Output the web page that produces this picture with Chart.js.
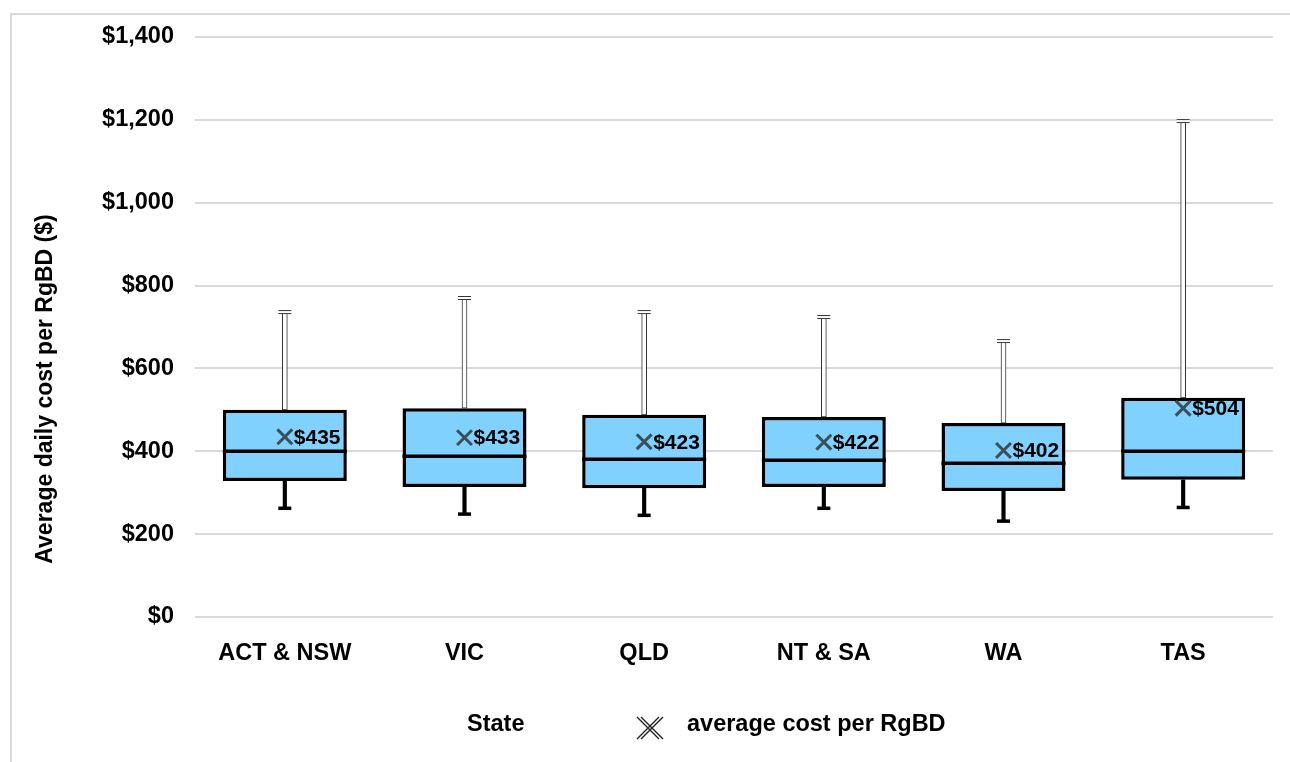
<!DOCTYPE html>
<html>
<head>
<meta charset="utf-8">
<script src="https://cdn.jsdelivr.net/npm/chart.js@4.4.0/dist/chart.umd.min.js"></script>
<style>
    body { margin: 0; overflow: hidden; background: #fff; }
    #frame {
        position: absolute; left: 10px; top: 13px; width: 1400px; height: 900px;
        border-left: 2px solid #d9d9d9; border-top: 2px solid #d9d9d9;
    }
    #wrap { position: absolute; left: 0; top: 0; width: 1290px; height: 762px; }
</style>
</head>
<body>
<div id="frame"></div>
<div id="wrap"><canvas id="boxChart" width="1290" height="762"></canvas></div>
<script>

const states = ["ACT & NSW", "VIC", "QLD", "NT & SA", "WA", "TAS"];
const minCost = [263, 249, 246, 263, 232, 265];
const q1Cost = [328, 314, 311, 314, 304, 331];
const medianCost = [400, 389, 381, 379, 372, 400];
const q3Cost = [500, 504, 488, 483, 468, 529];
const maxCost = [736, 770, 736, 724, 666, 1197];
const meanCost = [435, 433, 423, 422, 402, 504];
const yTicks = [0, 200, 400, 600, 800, 1000, 1200, 1400];

const FONT = "'Liberation Sans', Arial, sans-serif";

function money(v) {
    return "$" + v.toLocaleString("en-US");
}

function drawCross(ctx, x, y, r, width, color) {
    ctx.save();
    ctx.strokeStyle = color;
    ctx.lineWidth = width;
    ctx.beginPath();
    ctx.moveTo(x - r, y - r);
    ctx.lineTo(x + r, y + r);
    ctx.moveTo(x + r, y - r);
    ctx.lineTo(x - r, y + r);
    ctx.stroke();
    ctx.restore();
}

// medians, whisker caps, mean labels, axis title and legend
const boxExtras = {
    id: "boxExtras",
    afterDatasetsDraw(chart) {
        const ctx = chart.ctx;
        const y = chart.scales.y;
        const boxes = chart.getDatasetMeta(0).data;

        ctx.save();
        boxes.forEach((bar, i) => {
            const half = bar.width / 2;
            const cx = bar.x;

            // median
            const my = Math.round(y.getPixelForValue(medianCost[i]));
            ctx.fillStyle = "#000";
            ctx.fillRect(cx - half, my - 1.5, bar.width, 3.5);

            // lower cap
            const ly = y.getPixelForValue(minCost[i]);
            ctx.fillRect(cx - 6.5, ly - 1.5, 13, 3.5);

            // upper cap (double line)
            const uy = y.getPixelForValue(maxCost[i]);
            ctx.fillStyle = "#ffffff";
            ctx.fillRect(cx - 6.5, uy - 2, 13, 4);
            ctx.strokeStyle = "#333";
            ctx.lineWidth = 1;
            ctx.beginPath();
            ctx.moveTo(cx - 6.5, uy - 1.5);
            ctx.lineTo(cx + 6.5, uy - 1.5);
            ctx.moveTo(cx - 6.5, uy + 1.5);
            ctx.lineTo(cx + 6.5, uy + 1.5);
            ctx.stroke();
        });

        // mean labels
        const points = chart.getDatasetMeta(3).data;
        ctx.fillStyle = "#000";
        ctx.font = "bold 21px " + FONT;
        ctx.textAlign = "left";
        ctx.textBaseline = "middle";
        points.forEach((pt, i) => {
            ctx.fillText(money(meanCost[i]), pt.x + 9, pt.y + 1);
        });
        ctx.restore();
    },
    afterDraw(chart) {
        const ctx = chart.ctx;
        ctx.save();
        ctx.fillStyle = "#000";
        ctx.font = "bold 23px " + FONT;

        // y axis title, centred on whole frame height
        ctx.translate(46, 389);
        ctx.rotate(-Math.PI / 2);
        ctx.textAlign = "center";
        ctx.textBaseline = "middle";
        ctx.fillText("Average daily cost per RgBD ($)", 0, 0);
        ctx.restore();

        ctx.save();
        ctx.fillStyle = "#000";
        ctx.font = "bold 23.5px " + FONT;
        ctx.textAlign = "left";
        ctx.textBaseline = "middle";
        ctx.fillText("State", 467, 725);
        drawCross(ctx, 648, 728, 11, 1.4, "#222");
        drawCross(ctx, 652, 728, 11, 1.4, "#222");
        ctx.fillText("average cost per RgBD", 687, 725);
        ctx.restore();
    }
};

function main() {
    const ctx = document.getElementById("boxChart").getContext("2d");

    new Chart(ctx, {
        type: "bar",
        data: {
            labels: states,
            datasets: [
                {
                    label: "box",
                    data: q1Cost.map((v, i) => [v, q3Cost[i]]),
                    backgroundColor: "#80d1fd",
                    borderColor: "#000",
                    borderWidth: 3.5,
                    borderSkipped: false,
                    barPercentage: 0.69,
                    categoryPercentage: 1,
                    grouped: false,
                    order: 1
                },
                {
                    label: "upper",
                    data: q3Cost.map((v, i) => [v, maxCost[i]]),
                    backgroundColor: "#ffffff",
                    borderColor: "#333",
                    borderWidth: 1,
                    borderSkipped: false,
                    barThickness: 5,
                    grouped: false,
                    order: 2
                },
                {
                    label: "lower",
                    data: minCost.map((v, i) => [v, q1Cost[i]]),
                    backgroundColor: "#000",
                    borderWidth: 0,
                    barThickness: 3.5,
                    grouped: false,
                    order: 2
                },
                {
                    type: "line",
                    label: "average cost per RgBD",
                    data: meanCost,
                    showLine: false,
                    pointStyle: "crossRot",
                    pointRadius: 10.5,
                    pointBorderWidth: 3,
                    borderColor: "#3b4f5a",
                    backgroundColor: "#3b4f5a",
                    order: 0
                }
            ]
        },
        options: {
            responsive: false,
            animation: false,
            layout: { padding: { left: 0, right: 17, top: 37, bottom: 0 } },
            plugins: {
                legend: { display: false },
                tooltip: { enabled: false }
            },
            scales: {
                x: {
                    grid: { display: false },
                    border: { display: false },
                    ticks: {
                        color: "#000",
                        padding: 14,
                        font: { family: FONT, size: 23.5, weight: "bold" }
                    },
                    afterFit(scale) { scale.height = 145; }
                },
                y: {
                    min: 0,
                    max: 1400,
                    afterBuildTicks(scale) {
                        scale.ticks = yTicks.map(v => ({ value: v }));
                    },
                    grid: { color: "#d9d9d9", lineWidth: 2, drawTicks: false },
                    border: { display: false },
                    ticks: {
                        color: "#000",
                        padding: 21,
                        font: { family: FONT, size: 23.5, weight: "bold" },
                        callback: (v) => money(v)
                    },
                    afterFit(scale) { scale.width = 195; }
                }
            }
        },
        plugins: [boxExtras]
    });
}

document.addEventListener("DOMContentLoaded", () => {
    main();
});
</script>
</body>
</html>
